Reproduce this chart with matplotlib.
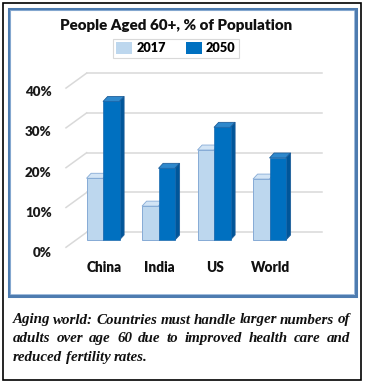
import matplotlib
matplotlib.use("Agg")
import matplotlib.pyplot as plt
from matplotlib.patches import Polygon, Rectangle, Patch
from matplotlib.lines import Line2D

# ---------------- data ----------------
categories = ["China", "India", "US", "World"]
series_names = ["2017", "2050"]
values_2017 = [15.5, 8.5, 22.6, 15.3]
values_2050 = [34.8, 18.0, 28.3, 20.6]
y_ticks = [0, 10, 20, 30, 40]
y_tick_labels = ["0%", "10%", "20%", "30%", "40%"]
title_text = "People Aged 60+, % of Population"
caption_lines = [
    "Aging world: Countries must handle larger numbers of",
    "adults over age 60 due to improved health care and",
    "reduced fertility rates.",
]

# ---------------- styles ----------------
W, H, DPI = 365, 386, 100
LABEL_FONT = "Lato"
LABEL_WEIGHT = "heavy"
C17_FRONT, C17_TOP, C17_EDGE = "#BDD7EE", "#D2E4F5", "#86ABD6"
C50_FRONT, C50_TOP, C50_SIDE = "#0070C0", "#2E88CC", "#00569A"
GRID = "#D9D9D9"

fig = plt.figure(figsize=(W / DPI, H / DPI), dpi=DPI)
fig.patch.set_facecolor("white")


def fx(x):
    return x / W


def fy(y):
    return 1 - y / H


# frames
fig.add_artist(Rectangle((fx(2.5), fy(379.5)), (360.5 - 2.5) / W, (379.5 - 2.5) / H,
                         transform=fig.transFigure, fill=False, ec="black", lw=1.2))
fig.add_artist(Rectangle((fx(8.5), fy(296)), (355.5 - 8.5) / W, (296 - 8.5) / H,
                         transform=fig.transFigure, fill=False, ec="#4E7CB0", lw=2.2))
fig.add_artist(Rectangle((fx(10.3), fy(294.2)), (353.7 - 10.3) / W, (294.2 - 10.3) / H,
                         transform=fig.transFigure, fill=False, ec="#8FB0D6", lw=0.6))

# main axes (bar plane)
ax = fig.add_axes([fx(47.5), fy(251.9), 277.5 / W, 191 / H])
ax.set_xlim(-1, 4)
ax.set_ylim(-3, 45)
ax.axis("off")

px_x = 277.5 / 5.0     # pixels per category
px_y = 191 / 48.0      # pixels per percent

# pseudo-3D geometry (pixel offsets converted to data units)
bw = 16.5 / px_x
bdx, bdy = 4.6 / px_x, 5.0 / px_y          # bar depth
wdx, wdy = 10.6 / px_x, 7.7 / px_y         # back wall offset from bar plane
sdx, sdy = -20.7 / px_x, -15.0 / px_y      # slant of floor/left wall
wall_x0, wall_x1 = (86.7 - 47.5) / px_x - 1, (321.7 - 47.5) / px_x - 1

for v, lab in zip(y_ticks, y_tick_labels):
    yb = v + wdy
    ax.add_line(Line2D([wall_x0, wall_x1], [yb, yb], color=GRID, lw=1.1, zorder=1))
    ax.add_line(Line2D([wall_x0, wall_x0 + sdx], [yb, yb + sdy], color=GRID, lw=1.1, zorder=1))
    ax.text(-0.925, v * 1.01 - 3.27, lab, ha="right", va="center",
            fontsize=9.6, fontweight=LABEL_WEIGHT, family=LABEL_FONT, color="#1a1a1a")


def box(x0, v, front, top, side, edge, z):
    x1 = x0 + bw
    ax.add_patch(Polygon([(x0, v), (x0 + bdx, v + bdy), (x1 + bdx, v + bdy), (x1, v)],
                         closed=True, fc=top, ec=edge, lw=0.6, zorder=z))
    ax.add_patch(Polygon([(x1, 0), (x1 + bdx, bdy), (x1 + bdx, v + bdy), (x1, v)],
                         closed=True, fc=side, ec=edge, lw=0.6, zorder=z))


for i, (a, b) in enumerate(zip(values_2017, values_2050)):
    box(i - bw, a, C17_FRONT, C17_TOP, C17_FRONT, C17_EDGE, 2)
    ax.bar(i - bw / 2, a, width=bw, color=C17_FRONT, edgecolor=C17_EDGE, lw=0.7, zorder=3)
    box(i, b, C50_FRONT, C50_TOP, C50_SIDE, "#1F5F9A", 4)
    ax.bar(i + bw / 2, b, width=bw, color=C50_FRONT, edgecolor="#1C6AAE", lw=0.5, zorder=5)
    ax.text(i + 0.02, -6.8, categories[i], ha="center", va="center",
            fontsize=9.8, fontweight=LABEL_WEIGHT, family=LABEL_FONT, color="#111111")

# title
fig.text(fx(176.5), fy(25), title_text, ha="center", va="center",
         fontsize=10.9, fontweight=LABEL_WEIGHT, family=LABEL_FONT, color="#111111")

# legend
handles = [Patch(fc=C17_FRONT, ec="none"), Patch(fc=C50_FRONT, ec="none")]
leg = fig.legend(handles, series_names, loc="center", bbox_to_anchor=(fx(176), fy(48.3)),
                 ncol=2, frameon=True, fancybox=False, edgecolor="#D0D0D0",
                 prop={"family": LABEL_FONT, "weight": LABEL_WEIGHT, "size": 9.2},
                 handlelength=1.25, handleheight=1.0, handletextpad=0.3,
                 columnspacing=1.6, borderpad=0.25, borderaxespad=0)
leg.get_frame().set_linewidth(0.8)

# caption, justified
renderer = fig.canvas.get_renderer()
cap_x0, cap_x1 = 12.7, 350.0
baselines = [323.5, 342.3, 361.0]
for k, (line, yb) in enumerate(zip(caption_lines, baselines)):
    words = line.split()
    texts = [fig.text(0, 0, w_, fontsize=10.8, style="italic", fontweight="bold",
                      family="Liberation Serif", va="baseline", ha="left", color="#111111")
             for w_ in words]
    widths = [t.get_window_extent(renderer).width for t in texts]
    if k == len(caption_lines) - 1:
        gap = 3.8
    else:
        gap = (cap_x1 - cap_x0 - sum(widths)) / (len(words) - 1)
    x = cap_x0
    for t, w_ in zip(texts, widths):
        t.set_position((fx(x), fy(yb)))
        x += w_ + gap

fig.savefig("out.png", dpi=DPI)
